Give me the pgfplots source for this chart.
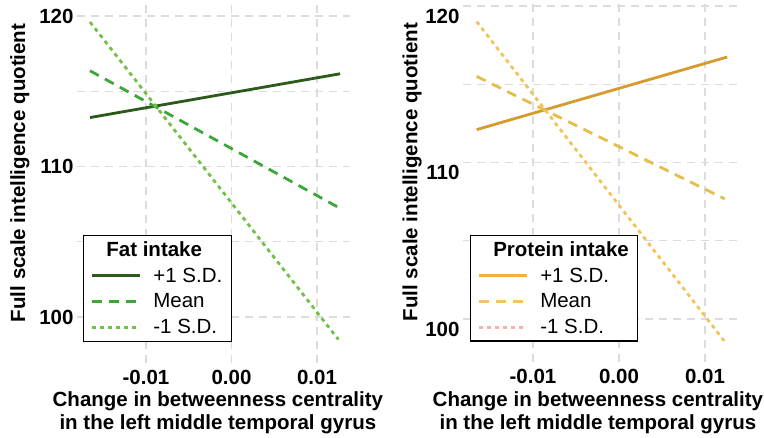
\documentclass[border=0pt]{standalone}
\usepackage{pgfplots}
\pgfplotsset{compat=1.18}
\usepackage{fontspec}
\setmainfont{Liberation Sans}
\definecolor{gA}{HTML}{2D5A1B}
\definecolor{gB}{HTML}{3DA53A}
\definecolor{gC}{HTML}{72C046}
\definecolor{oA}{HTML}{D69A2D}
\definecolor{oB}{HTML}{E3BE4A}
\definecolor{oC}{HTML}{F2C35A}
\definecolor{lA}{HTML}{EFB435}
\definecolor{lB}{HTML}{F6C263}
\definecolor{lC}{HTML}{F4B3A8}
\definecolor{gridc}{HTML}{DCDCDC}
\pgfplotsset{
  myaxis/.style={
    scale only axis,
    anchor=south west,
    axis line style={draw=none},
    major tick length=0pt, minor tick length=0pt,
    xtick={-0.01,0,0.01},
    xticklabels={-0.01,0.00,0.01},
    ytick={100,110,120},
    minor ytick={105,115},
    grid=both,
    grid style={gridc, line width=1.3pt, dash pattern=on 8pt off 6pt},
    minor grid style={gridc, line width=1.3pt, dash pattern=on 8pt off 6pt},
    /pgf/number format/assume math mode=true,
    tick label style={font=\bfseries\fontsize{20.5}{24}\selectfont},
    xticklabel style={inner sep=0pt, yshift=-7pt},
    label style={font=\bfseries\fontsize{20.5}{23}\selectfont},
    scaled x ticks=false,
    xlabel={Change in betweenness centrality\\in the left middle temporal gyrus},
    ylabel={Full scale intelligence quotient},
    legend cell align=left,
    legend image code/.code={\draw[##1, line width=2.8pt] (0pt,0pt) -- (48pt,0pt);},
    legend style={draw=black, line width=1.1pt, font=\fontsize{20.5}{24}\selectfont,
      anchor=north west, inner xsep=7pt, inner ysep=4pt, row sep=6pt, column sep=10pt,
      nodes={inner sep=2pt}},
  }
}
\begin{document}
\begin{tikzpicture}
\useasboundingbox (0,0) rectangle (764pt,437pt);
\begin{axis}[myaxis,
  at={(77pt,74pt)}, width=273pt, height=358pt,
  xmin=-0.01807, xmax=0.01386, ymin=96.94, ymax=120.73,
  xlabel style={align=center, inner sep=0pt, at={(axis description cs:0.516,-0.1395)}, anchor=center},
  ylabel style={at={(axis description cs:-0.209,0.531)}, anchor=center},
  legend style={at={(axis description cs:0.022,0.3575)}},
]
\addlegendimage{empty legend}
\addlegendentry{\hspace*{-47pt}\textbf{Fat intake}}
\addplot[gA, line width=2.8pt] coordinates {(-0.01655,113.25) (0.0127,116.16)};
\addlegendentry{+1 S.D.}
\addplot[gB, line width=2.8pt, dash pattern=on 10pt off 7pt] coordinates {(-0.01655,116.36) (0.0127,107.22)};
\addlegendentry{Mean}
\addplot[gC, line width=2.8pt, dash pattern=on 4pt off 4pt] coordinates {(-0.01655,119.6) (0.0125,98.5)};
\addlegendentry{-1 S.D.}
\end{axis}
\begin{axis}[myaxis,
  at={(463pt,75pt)}, width=277pt, height=359pt,
  xmin=-0.01814, xmax=0.01407, ymin=97.25, ymax=120.19,
  yticklabel style={yshift=-10pt},
  xlabel style={align=center, inner sep=0pt, at={(axis description cs:0.487,-0.142)}, anchor=center},
  ylabel style={at={(axis description cs:-0.184,0.529)}, anchor=center},
  legend style={at={(axis description cs:0.025,0.354)}},
]
\addplot[oA, line width=2.8pt, forget plot] coordinates {(-0.01655,112.1) (0.01259,116.74)};
\addplot[oB, line width=2.8pt, dash pattern=on 10pt off 7pt, forget plot] coordinates {(-0.01655,115.5) (0.0123,107.67)};
\addplot[oC, line width=2.8pt, dash pattern=on 4pt off 4pt, forget plot] coordinates {(-0.01655,119.0) (0.0123,98.55)};
\addlegendimage{empty legend}
\addlegendentry{\hspace*{-47pt}\textbf{Protein intake}}
\addlegendimage{lA, line width=2.8pt}
\addlegendentry{+1 S.D.}
\addlegendimage{lB, line width=2.8pt, dash pattern=on 10pt off 7pt}
\addlegendentry{Mean}
\addlegendimage{lC, line width=2.8pt, dash pattern=on 4pt off 4pt}
\addlegendentry{-1 S.D.}
\end{axis}
\end{tikzpicture}
\end{document}
